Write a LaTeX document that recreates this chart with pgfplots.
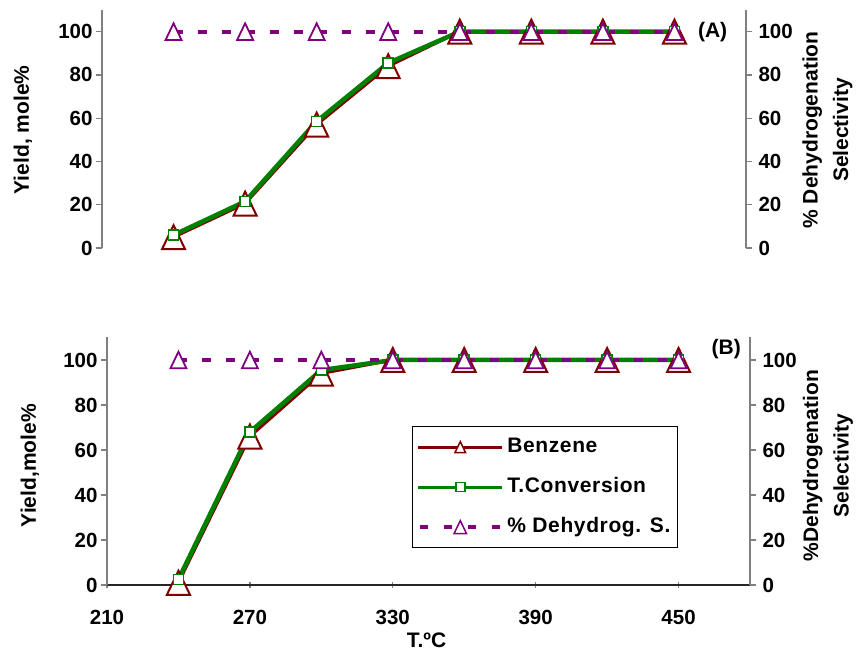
\documentclass[border=0pt]{standalone}
\usepackage{pgfplots}
\pgfplotsset{compat=1.18}
\usepackage{fontspec}
\setmainfont{Liberation Sans}
\definecolor{benz}{HTML}{800000}
\definecolor{conv}{HTML}{008000}
\definecolor{sel}{HTML}{800080}
\definecolor{axgray}{HTML}{808080}
\newcommand{\tickfont}{\fontsize{20.5}{24}\selectfont\bfseries}
\newcommand{\labfont}{\fontsize{21}{30.5}\selectfont\bfseries}
\newcommand{\legfont}{\fontsize{21}{25}\selectfont\bfseries\addfontfeature{LetterSpace=3}}

\pgfdeclareplotmark{tri}{%
  \pgfpathmoveto{\pgfqpoint{0pt}{\pgfplotmarksize}}%
  \pgfpathlineto{\pgfqpoint{-0.96\pgfplotmarksize}{-\pgfplotmarksize}}%
  \pgfpathlineto{\pgfqpoint{0.96\pgfplotmarksize}{-\pgfplotmarksize}}%
  \pgfpathclose
  \pgfusepathqfillstroke
}

\pgfplotsset{
  panel/.style={
    scale only axis, anchor=south west, clip=false,
    xmin=210, xmax=480, ymin=0, ymax=110,
    ytick={0,20,...,100},
    xtick={210,270,330,390,450},
    /pgf/number format/assume math mode=true,
    tick label style={font=\tickfont},
    label style={font=\labfont, align=center},
    y axis line style={axgray, line width=1.3pt},
    x axis line style={black!85, line width=1.3pt},
    tick style={axgray, line width=1.3pt},
    major tick length=6pt,
    ytick align=outside,
    xtick align=center,
  },
  benzstyle/.style={benz, line width=3pt, mark=tri, mark size=12pt, mark options={solid, fill=white, line width=2pt}},
  convstyle/.style={conv, line width=4.5pt, mark=square*, mark size=5pt, mark options={solid, fill=white, line width=1.6pt}},
  selstyle/.style={sel, line width=4pt, dash pattern=on 9pt off 15pt, mark=tri, mark size=8.3pt, mark options={solid, fill=white, line width=1.8pt}},
}

\begin{document}
\begin{tikzpicture}
\useasboundingbox (0pt,0pt) rectangle (858pt,653pt);
% ---------------- Panel A ----------------
\begin{axis}[panel, at={(102pt,405pt)}, width=644pt, height=238pt,
  axis x line=none, axis y line*=left,
  ylabel={Yield, mole\%},
  ylabel style={at={(axis description cs:-0.123,0.496)}, anchor=center},
]
\addplot[benzstyle] coordinates {(240,5) (270,20.5) (300,57) (330,84) (360,100) (390,100) (420,100) (450,100)};
\addplot[convstyle] coordinates {(240,6) (270,21.5) (300,58.5) (330,85.5) (360,100) (390,100) (420,100) (450,100)};
\addplot[selstyle] coordinates {(240,100) (270,100) (300,100) (330,100) (360,100) (390,100) (420,100) (450,100)};
\node[font=\labfont] at (axis cs:466,100) {(A)};
\end{axis}
\begin{axis}[panel, at={(102pt,405pt)}, width=644pt, height=238pt,
  axis x line=none, axis y line*=right,
  yticklabel style={xshift=3pt},
  ylabel={\% Dehydrogenation\\Selectivity},
  ylabel style={at={(axis description cs:1.1266,0.496)}, anchor=center},
]
\end{axis}
% ---------------- Panel B ----------------
\begin{axis}[panel, at={(107pt,68pt)}, width=643pt, height=247.5pt,
  axis x line*=bottom, axis y line*=left,
  xticklabel style={yshift=-19pt},
  xlabel={T.ºC},
  xlabel style={at={(axis description cs:0.497,-0.222)}, anchor=center},
  ylabel={Yield,mole\%},
  ylabel style={at={(axis description cs:-0.12,0.482)}, anchor=center},
  legend image code/.code={\draw[mark repeat=2,mark phase=2,#1] plot coordinates {(0pt,0pt) (42pt,0pt) (84pt,0pt)};},
  legend cell align=left,
  legend style={at={(axis description cs:0.474,0.642)}, anchor=north west, draw=black, line width=1pt,
    font=\legfont, inner xsep=4pt, inner ysep=8pt, row sep=15pt,
    nodes={text height=15pt, text depth=4pt, inner sep=3pt}},
]
\addplot[benzstyle, forget plot] coordinates {(240,1) (270,66) (300,94) (330,100) (360,100) (390,100) (420,100) (450,100)};
\addplot[convstyle, forget plot] coordinates {(240,2.5) (270,68) (300,95.5) (330,100) (360,100) (390,100) (420,100) (450,100)};
\addplot[selstyle, forget plot] coordinates {(240,100) (270,100) (300,100) (330,100) (360,100) (390,100) (420,100) (450,100)};
\addlegendimage{benz, line width=3pt, mark=tri, mark size=5.5pt, mark options={solid, fill=white, line width=1.5pt}}
\addlegendentry{Benzene}
\addlegendimage{conv, line width=3pt, mark=square*, mark size=4.5pt, mark options={solid, fill=white, line width=1.5pt}}
\addlegendentry{T.Conversion}
\addlegendimage{sel, line width=4pt, dash pattern=on 8pt off 16pt, dash phase=-2pt, mark=tri, mark size=6.5pt, mark options={solid, fill=white, line width=1.5pt}}
\addlegendentry{\% Dehydrog. S.}
\node[font=\labfont] at (axis cs:470,105) {(B)};
\end{axis}
\begin{axis}[panel, at={(107pt,68pt)}, width=643pt, height=247.5pt,
  axis x line=none, axis y line*=right,
  yticklabel style={xshift=3pt},
  ylabel={\%Dehydrogenation\\Selectivity},
  ylabel style={at={(axis description cs:1.121,0.482)}, anchor=center},
]
\end{axis}
\end{tikzpicture}
\end{document}
